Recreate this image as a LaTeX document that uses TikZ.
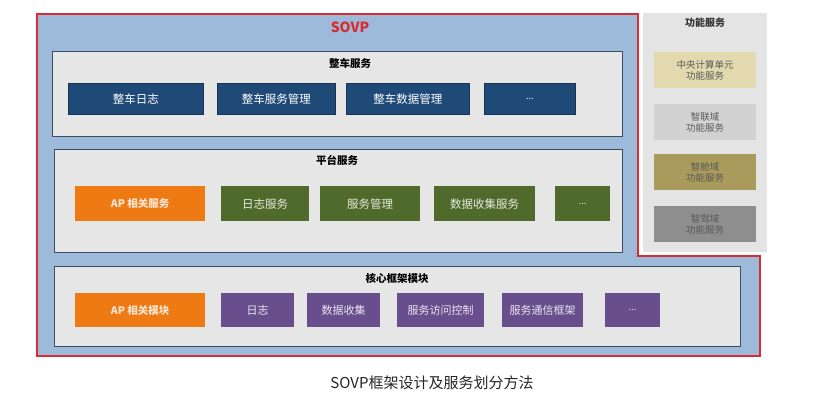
\documentclass[tikz,border=0pt]{standalone}
\usepackage{fontspec}
\setmainfont{Noto Sans CJK SC}
\definecolor{redline}{HTML}{D92B30}
\definecolor{bluefill}{HTML}{9EBADB}
\definecolor{panelfill}{HTML}{E6E6E6}
\definecolor{panelborder}{HTML}{3A4E62}
\definecolor{darkblue}{HTML}{1F4A78}
\definecolor{orangec}{HTML}{EE7A14}
\definecolor{greenc}{HTML}{4F6A2A}
\definecolor{purplec}{HTML}{694E8E}
\definecolor{sidefill}{HTML}{E4E4E4}
\definecolor{khakilight}{HTML}{E2D9AE}
\definecolor{lightgrayc}{HTML}{D2D2D2}
\definecolor{olivec}{HTML}{A99B5B}
\definecolor{grayc}{HTML}{8E8E8E}
\begin{document}
\begin{tikzpicture}[x=1pt,y=-1pt,
  panel/.style={draw=panelborder, line width=1.2pt, fill=panelfill, anchor=north west, inner sep=0pt},
  ptitle/.style={font=\fontsize{10.5}{11}\selectfont\bfseries, text=black},
  box/.style={anchor=north west, inner sep=0pt, text=white, font=\fontsize{11.5}{12}\selectfont},
  bluebox/.style={box, fill=darkblue, draw=darkblue!70!black, line width=0.8pt, minimum height=31pt},
  orangebox/.style={box, fill=orangec, text=white!80!orangec, font=\fontsize{10.5}{12}\selectfont\bfseries},
  greenbox/.style={box, fill=greenc, text=white!85!greenc},
  purplebox/.style={box, fill=purplec, text=white!85!purplec, font=\fontsize{11}{12}\selectfont},
  sidebox/.style={anchor=north west, inner sep=0pt, minimum width=102pt, minimum height=36pt, align=center, text=black!65, font=\fontsize{9.5}{11.5}\selectfont}
]
\useasboundingbox[fill=white] (0,0) rectangle (813,407);

% side panel
\node[anchor=north west, inner sep=0pt, fill=sidefill, minimum width=124pt, minimum height=239pt] (side) at (643,13) {};
\node[font=\fontsize{10}{11}\selectfont\bfseries, text=black!80] (sidetitle) at (705,23) {功能服务};
\node[sidebox, fill=khakilight] (s1) at (654,52) {中央计算单元\\功能服务};
\node[sidebox, fill=lightgrayc] (s2) at (654,104) {智联域\\功能服务};
\node[sidebox, fill=olivec] (s3) at (654,154) {智舱域\\功能服务};
\node[sidebox, fill=grayc] (s4) at (654,206) {智驾域\\功能服务};

% red L outline
\draw[redline, line width=2pt, fill=bluefill] (37,14) -- (638,14) -- (638,256) -- (760,256) -- (760,356) -- (37,356) -- cycle;
\node[text=redline, font=\fontsize{14}{15}\selectfont\bfseries] (sovp) at (350,27) {SOVP};

% panel 1
\node[panel, minimum width=570pt, minimum height=85pt] (p1) at (52,51) {};
\node[ptitle] (p1t) at (350,63) {整车服务};
\node[bluebox, minimum width=135pt] (b1) at (68,83) {整车日志};
\node[bluebox, minimum width=118pt] (b2) at (217,83) {整车服务管理};
\node[bluebox, minimum width=123pt] (b3) at (346,83) {整车数据管理};
\node[bluebox, minimum width=91pt, font=\fontsize{9}{10}\selectfont] (b4) at (484,83) {...};

% panel 2
\node[panel, minimum width=568pt, minimum height=103pt] (p2) at (54,149) {};
\node[ptitle] (p2t) at (337,160) {平台服务};
\node[orangebox, minimum width=130pt, minimum height=35pt] (g0) at (75,186) {AP 相关服务};
\node[greenbox, minimum width=88pt, minimum height=35pt] (g1) at (221,186) {日志服务};
\node[greenbox, minimum width=100pt, minimum height=35pt] (g2) at (320,186) {服务管理};
\node[greenbox, minimum width=101pt, minimum height=35pt] (g3) at (434,186) {数据收集服务};
\node[greenbox, minimum width=55pt, minimum height=35pt, font=\fontsize{9}{10}\selectfont] (g4) at (555,186) {...};

% panel 3
\node[panel, minimum width=686pt, minimum height=80pt] (p3) at (54,266) {};
\node[ptitle] (p3t) at (397,278) {核心框架模块};
\node[orangebox, minimum width=130pt, minimum height=34pt] (m0) at (75,293) {AP 相关模块};
\node[purplebox, minimum width=73pt, minimum height=34pt] (m1) at (221,293) {日志};
\node[purplebox, minimum width=73pt, minimum height=34pt] (m2) at (307,293) {数据收集};
\node[purplebox, minimum width=87pt, minimum height=34pt] (m3) at (397,293) {服务访问控制};
\node[purplebox, minimum width=81pt, minimum height=34pt] (m4) at (502,293) {服务通信框架};
\node[purplebox, minimum width=55pt, minimum height=34pt, font=\fontsize{9}{10}\selectfont] (m5) at (605,293) {...};

% caption
\node[font=\fontsize{15}{16}\selectfont, text=black!85] (cap) at (432,383) {SOVP框架设计及服务划分方法};
\end{tikzpicture}
\end{document}
